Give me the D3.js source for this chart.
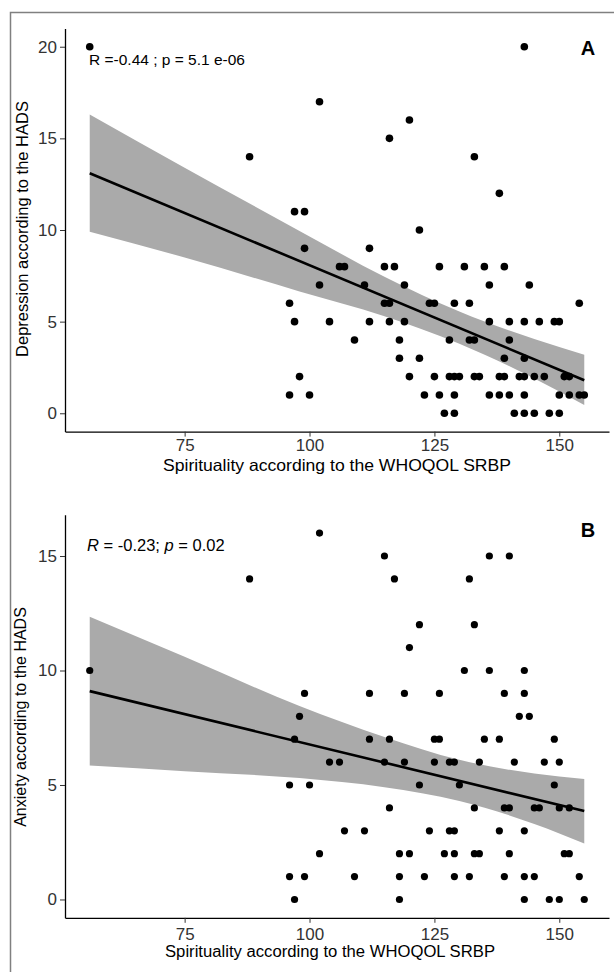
<!DOCTYPE html>
<html>
<head>
<meta charset="utf-8">
<script src="https://cdn.jsdelivr.net/npm/d3@7"></script>
<style>
  body { margin: 0; background: #fff; }
  svg text { font-family: "Liberation Sans", Arial, sans-serif; fill: #000; }
  .tick text { fill: #333; }
  .tick line { stroke: #333; }
</style>
</head>
<body>
<svg id="fig" width="614" height="972"></svg>
<script>
// WHOQOL SRBP score vs HADS depression score (panel A)
const depPoints = [
  [56, 20], [143, 20], [102, 17], [120, 16], [116, 15], [88, 14], [133, 14],
  [138, 12], [97, 11], [99, 11], [122, 10], [99, 9], [112, 9],
  [106, 8], [107, 8], [115, 8], [117, 8], [126, 8], [131, 8], [135, 8], [139, 8],
  [102, 7], [111, 7], [119, 7], [136, 7], [144, 7],
  [96, 6], [115, 6], [116, 6], [124, 6], [125, 6], [129, 6], [132, 6], [154, 6],
  [97, 5], [104, 5], [112, 5], [116, 5], [119, 5], [136, 5], [140, 5], [143, 5], [146, 5], [149, 5], [150, 5],
  [109, 4], [118, 4], [128, 4], [132, 4], [133, 4], [140, 4],
  [118, 3], [122, 3], [139, 3], [143, 3],
  [98, 2], [120, 2], [125, 2], [128, 2], [129, 2], [130, 2], [133, 2], [134, 2],
  [138, 2], [139, 2], [142, 2], [143, 2], [145, 2], [147, 2], [151, 2], [152, 2],
  [96, 1], [100, 1], [123, 1], [126, 1], [129, 1], [136, 1], [138, 1], [140, 1],
  [143, 1], [150, 1], [152, 1], [154, 1], [155, 1],
  [127, 0], [129, 0], [141, 0], [143, 0], [145, 0], [148, 0], [150, 0]
];

// WHOQOL SRBP score vs HADS anxiety score (panel B)
const anxPoints = [
  [102, 16], [115, 15], [136, 15], [140, 15], [88, 14], [117, 14], [132, 14],
  [122, 12], [133, 12], [120, 11], [56, 10], [131, 10], [136, 10], [143, 10],
  [99, 9], [112, 9], [119, 9], [126, 9], [139, 9], [143, 9],
  [98, 8], [142, 8], [144, 8],
  [97, 7], [112, 7], [116, 7], [125, 7], [126, 7], [135, 7], [138, 7], [149, 7],
  [104, 6], [106, 6], [115, 6], [119, 6], [125, 6], [128, 6], [129, 6], [134, 6], [141, 6], [147, 6], [150, 6],
  [96, 5], [100, 5], [122, 5], [130, 5], [149, 5],
  [116, 4], [133, 4], [139, 4], [140, 4], [145, 4], [146, 4], [150, 4], [152, 4],
  [107, 3], [111, 3], [124, 3], [128, 3], [129, 3], [138, 3], [143, 3],
  [102, 2], [118, 2], [120, 2], [127, 2], [129, 2], [133, 2], [134, 2], [140, 2], [151, 2], [152, 2],
  [96, 1], [99, 1], [109, 1], [118, 1], [123, 1], [129, 1], [132, 1], [139, 1], [143, 1], [145, 1], [154, 1],
  [97, 0], [118, 0], [143, 0], [148, 0], [150, 0], [155, 0]
];

// fitted line and 95% band: [x, fit, lower, upper]
const depFit = [
  [56, 13.1, 9.9, 16.3], [75, 10.9, 8.5, 13.4], [98, 8.3, 6.65, 9.95],
  [115, 6.4, 5.3, 7.45], [130, 4.7, 3.8, 5.55], [145, 3.0, 1.9, 4.05], [155, 1.8, 0.45, 3.2]
];
const anxFit = [
  [56, 9.1, 5.85, 12.35], [75, 8.1, 5.6, 10.6], [98, 6.9, 5.3, 8.45],
  [115, 6.0, 4.9, 7.1], [130, 5.2, 4.3, 6.1], [145, 4.4, 3.3, 5.5], [155, 3.86, 2.45, 5.26]
];

const xTicks = [75, 100, 125, 150];
const depTicks = [0, 5, 10, 15, 20];
const anxTicks = [0, 5, 10, 15];

const svg = d3.select('#fig');

//outer frame of the figure
svg.append('path')
  .attr('d', 'M10.5,980 V12.5 H620')
  .attr('fill', 'none')
  .attr('stroke', '#808080')
  .attr('stroke-width', 1.5);

//draw one scatter panel with regression line and band
const scatterPanel = (selection, props) => {
  const {
    points, fit, yTicks, xDomain, yDomain, xRange, yRange,
    stat, letter, xTitle, yTitle, radius, layout
  } = props;

  const xScale = d3.scaleLinear().domain(xDomain).range(xRange);
  const yScale = d3.scaleLinear().domain(yDomain).range(yRange);

  const g = selection.append('g');

  //confidence band
  const band = d3.area()
    .x(d => xScale(d[0]))
    .y0(d => yScale(d[2]))
    .y1(d => yScale(d[3]))
    .curve(d3.curveMonotoneX);
  g.append('path')
    .datum(fit)
    .attr('d', band)
    .attr('fill', '#aaaaaa');

  //points
  g.selectAll('circle').data(points)
    .enter().append('circle')
      .attr('cx', d => xScale(d[0]))
      .attr('cy', d => yScale(d[1]))
      .attr('r', radius)
      .attr('fill', '#000');

  //regression line
  const line = d3.line()
    .x(d => xScale(d[0]))
    .y(d => yScale(d[1]));
  g.append('path')
    .datum([fit[0], fit[fit.length - 1]])
    .attr('d', line)
    .attr('fill', 'none')
    .attr('stroke', '#000')
    .attr('stroke-width', 2.6);

  //axes
  const yAxis = d3.axisLeft(yScale)
    .tickValues(yTicks)
    .tickSize(5)
    .tickSizeOuter(0)
    .tickPadding(3);
  const yAxisG = g.append('g')
    .attr('transform', `translate(${xRange[0]},0)`)
    .call(yAxis);
  yAxisG.selectAll('text').attr('font-size', layout.tickSize);
  yAxisG.select('.domain').attr('stroke', '#000').attr('stroke-width', 1.3);

  const xAxis = d3.axisBottom(xScale)
    .tickValues(xTicks)
    .tickSize(5)
    .tickSizeOuter(0)
    .tickPadding(layout.xPad);
  const xAxisG = g.append('g')
    .attr('transform', `translate(0,${yRange[0]})`)
    .call(xAxis);
  xAxisG.selectAll('text').attr('font-size', layout.tickSize);
  xAxisG.select('.domain').attr('stroke', '#000').attr('stroke-width', 1.3);

  //axis titles
  g.append('text')
    .attr('x', layout.xTitle[0])
    .attr('y', layout.xTitle[1])
    .attr('text-anchor', 'middle')
    .attr('font-size', layout.titleSize)
    .attr('textLength', layout.xTitleLen)
    .attr('lengthAdjust', 'spacingAndGlyphs')
    .text(xTitle);

  g.append('text')
    .attr('transform', `translate(${layout.yTitle[0]},${layout.yTitle[1]}) rotate(-90)`)
    .attr('text-anchor', 'middle')
    .attr('font-size', layout.titleSize)
    .text(yTitle);

  //correlation label
  const statText = g.append('text')
    .attr('x', layout.stat[0])
    .attr('y', layout.stat[1])
    .attr('font-size', layout.statSize);
  stat.forEach(s => {
    statText.append('tspan')
      .attr('font-style', s.italic ? 'italic' : 'normal')
      .text(s.t);
  });

  //panel letter
  g.append('text')
    .attr('x', layout.letter[0])
    .attr('y', layout.letter[1])
    .attr('text-anchor', 'middle')
    .attr('font-size', 20)
    .attr('font-weight', 'bold')
    .text(letter);
};

svg.call(scatterPanel, {
  points: depPoints,
  fit: depFit,
  yTicks: depTicks,
  xDomain: [51.05, 159.95],
  yDomain: [-1, 21],
  xRange: [65, 609],
  yRange: [431.6, 28.4],
  stat: [{t: 'R =-0.44 ; p = 5.1 e-06'}],
  letter: 'A',
  xTitle: 'Spirituality according to the WHOQOL SRBP',
  yTitle: 'Depression according to the HADS',
  radius: 3.8,
  layout: {
    tickSize: 17, xPad: 2, titleSize: 16.5,
    xTitle: [337, 471], xTitleLen: 348, yTitle: [28, 229],
    stat: [89, 65], statSize: 15.5, letter: [588, 55]
  }
});

svg.call(scatterPanel, {
  points: anxPoints,
  fit: anxFit,
  yTicks: anxTicks,
  xDomain: [51.05, 159.95],
  yDomain: [-0.8, 16.8],
  xRange: [65, 609],
  yRange: [917.8, 514.8],
  stat: [{t: 'R', italic: true}, {t: ' = -0.23; '}, {t: 'p', italic: true}, {t: ' = 0.02'}],
  letter: 'B',
  xTitle: 'Spirituality according to the WHOQOL SRBP',
  yTitle: 'Anxiety according to the HADS',
  radius: 3.6,
  layout: {
    tickSize: 17, xPad: 5, titleSize: 16,
    xTitle: [330, 957], xTitleLen: 330, yTitle: [26, 717],
    stat: [87, 551], statSize: 16.5, letter: [588, 537]
  }
});
</script>
</body>
</html>
